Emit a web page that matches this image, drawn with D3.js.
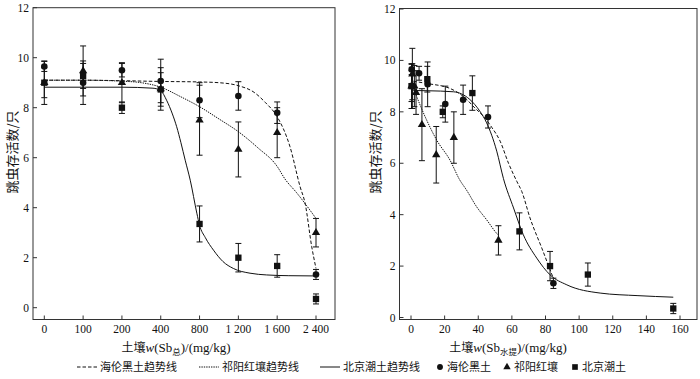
<!DOCTYPE html>
<html>
<head>
<meta charset="utf-8">
<script src="https://cdn.jsdelivr.net/npm/d3@7"></script>
<style>
body { margin: 0; background: #fff; }
text { fill: #111; }
</style>
</head>
<body>
<svg id="chart" width="700" height="379"></svg>
<script>
// tick labels of the left panel (categorical dose levels)
var doseLabels = ["0", "100", "200", "400", "800", "1 200", "1 600", "2 400"];
var yTicks = [0, 2, 4, 6, 8, 10, 12];
var waterTicks = [0, 20, 40, 60, 80, 100, 120, 140, 160];

// survival counts (same values in both panels)
var heilunVal = [9.65, 9.0, 9.5, 9.07, 8.3, 8.47, 7.8, 1.33];
var heilunErr = [0.2, 0.87, 0.27, 0.87, 0.7, 0.57, 0.43, 0.2];
var qiyangVal = [9.0, 9.47, 9.0, 8.75, 7.5, 6.33, 7.0, 3.0];
var qiyangErr = [0.87, 1.0, 0.8, 0.85, 1.4, 1.1, 1.0, 0.57];
var beijingVal = [9.0, 9.27, 8.0, 8.73, 3.35, 2.0, 1.67, 0.35];
var beijingErr = [0.6, 0.5, 0.23, 0.67, 0.72, 0.57, 0.45, 0.2];

// water-extractable Sb of each sample (right panel x)
var heilunWater = [0.4, 0.8, 4.8, 9.9, 20.4, 31, 45.8, 84.7];
var qiyangWater = [0.3, 0.8, 2.0, 3.0, 6.5, 15, 25.5, 52];
var beijingWater = [0.3, 9.7, 18.9, 36.5, 64.5, 82.7, 105.2, 156];

// trend lines, left panel x = dose index
var heilunTrendL = [[0, 9.1], [1, 9.1], [2, 9.08], [3, 9.05], [4, 9.03], [4.5, 9.0], [5, 8.88], [5.4, 8.62], [5.7, 8.2], [6, 7.64], [6.33, 6.44], [6.59, 4.84], [6.72, 4.17], [6.89, 2.44], [7, 1.57]];
var qiyangTrendL = [[0, 9.1], [1, 9.1], [2, 9.06], [2.5, 9.0], [3, 8.82], [3.5, 8.45], [4, 8.04], [4.5, 7.55], [5, 7.04], [5.5, 6.4], [6, 5.65], [6.2, 5.15], [6.5, 4.6], [6.75, 4.1], [7, 3.57]];
var beijingTrendL = [[0, 8.82], [2, 8.82], [2.8, 8.78], [3, 8.68], [3.15, 8.3], [3.3, 7.75], [3.41, 7.24], [3.52, 6.6], [3.63, 5.9], [3.76, 5.1], [3.93, 3.78], [4.0, 3.3], [4.15, 2.8], [4.36, 2.3], [4.6, 1.85], [4.87, 1.57], [5.3, 1.38], [5.73, 1.31], [6.3, 1.28], [7, 1.27]];

// trend lines, right panel x = water-extractable Sb
var heilunTrendR = [[1.4, 9.19], [9.7, 9.1], [23.2, 8.91], [32, 8.55], [38, 8.15], [43, 7.83], [48, 7.4], [53, 6.86], [58, 6.0], [62.9, 5.3], [65.9, 4.9], [70.8, 3.87], [77.8, 2.7], [82.7, 1.86], [84.5, 1.55]];
var qiyangTrendR = [[1, 9.0], [3.4, 8.59], [9.3, 7.68], [15.3, 6.9], [23.2, 6.12], [29, 5.35], [33, 4.96], [39, 4.31], [45, 3.8], [51, 3.27], [52, 3.2]];
var beijingTrendR = [[1.4, 8.83], [10, 8.82], [25.2, 8.78], [30, 8.7], [35, 8.48], [41, 8.02], [45, 7.57], [51, 6.47], [55, 5.4], [61, 4.26], [66.8, 3.22], [74.8, 2.31], [82.7, 1.66], [92.7, 1.27], [112.5, 0.95], [135, 0.85], [156, 0.79]];

var svg = d3.select("#chart");
var serif = "'Liberation Serif', 'Times New Roman', serif";
var cjk = "'Noto Sans CJK SC', sans-serif";
var ink = "#111";

var dashes = { heilun: "3.5,2", qiyang: "1.4,1", beijing: null };
var symbols = { heilun: d3.symbolCircle, qiyang: d3.symbolTriangle, beijing: d3.symbolSquare };
var symSize = { heilun: 34, qiyang: 30, beijing: 40 };

function drawPanel(p) {
    var g = svg.append("g");
    var x = p.x, y = p.y;

    // frame
    g.append("rect")
        .attr("x", p.left).attr("y", p.top)
        .attr("width", p.right - p.left).attr("height", p.bottom - p.top)
        .attr("fill", "none").attr("stroke", "#333").attr("stroke-width", 1);

    // y ticks (inward)
    yTicks.forEach(function (t) {
        g.append("line")
            .attr("x1", p.left).attr("x2", p.left + 4)
            .attr("y1", y(t)).attr("y2", y(t))
            .attr("stroke", "#333");
        g.append("text")
            .attr("x", p.left - 4).attr("y", y(t))
            .attr("dy", "0.35em").attr("text-anchor", "end")
            .style("font-family", serif).style("font-size", "11.5px")
            .text(t);
    });

    // x ticks (inward)
    p.xTicks.forEach(function (t, i) {
        g.append("line")
            .attr("x1", x(t)).attr("x2", x(t))
            .attr("y1", p.bottom).attr("y2", p.bottom - 4)
            .attr("stroke", "#333");
        g.append("text")
            .attr("x", x(t)).attr("y", p.bottom + 13)
            .attr("text-anchor", "middle")
            .style("font-family", serif).style("font-size", "11.5px")
            .text(p.xLabels ? p.xLabels[i] : t);
    });

    // trend lines
    var line = d3.line()
        .x(function (d) { return x(d[0]); })
        .y(function (d) { return y(d[1]); })
        .curve(d3.curveMonotoneX);
    p.trends.forEach(function (tr) {
        g.append("path")
            .attr("d", line(tr.data))
            .attr("fill", "none").attr("stroke", ink).attr("stroke-width", 1)
            .attr("stroke-dasharray", dashes[tr.key]);
    });

    // error bars and markers
    p.series.forEach(function (s) {
        s.vals.forEach(function (v, i) {
            var cx = x(s.xs[i]);
            var e = s.errs[i];
            g.append("line")
                .attr("x1", cx).attr("x2", cx)
                .attr("y1", y(v + e)).attr("y2", y(v - e))
                .attr("stroke", ink).attr("stroke-width", 1);
            [v + e, v - e].forEach(function (c) {
                g.append("line")
                    .attr("x1", cx - 3).attr("x2", cx + 3)
                    .attr("y1", y(c)).attr("y2", y(c))
                    .attr("stroke", ink).attr("stroke-width", 1);
            });
        });
    });
    p.series.forEach(function (s) {
        s.vals.forEach(function (v, i) {
            g.append("path")
                .attr("d", d3.symbol().type(symbols[s.key]).size(symSize[s.key])())
                .attr("transform", "translate(" + x(s.xs[i]) + "," + y(v) + ")")
                .attr("fill", ink);
        });
    });

    // y title
    g.append("text")
        .attr("transform", "translate(" + p.yTitleX + ",152) rotate(-90)")
        .attr("text-anchor", "middle").attr("dy", "0.35em")
        .style("font-family", cjk).style("font-size", "13px")
        .text("跳虫存活数/只");

    // x title
    var xt = g.append("text")
        .attr("x", p.xTitleX).attr("y", 352)
        .attr("text-anchor", "middle")
        .style("font-family", cjk).style("font-size", "12px");
    xt.append("tspan").text("土壤");
    xt.append("tspan").style("font-family", serif).style("font-style", "italic").style("font-size", "13px").text("w");
    xt.append("tspan").style("font-family", serif).style("font-size", "13px").text("(Sb");
    xt.append("tspan").attr("dy", 3).style("font-size", "8.5px").text(p.sub);
    xt.append("tspan").attr("dy", -3).style("font-family", serif).style("font-size", "13px").text(")/(mg/kg)");
}

var idx = d3.range(8);

drawPanel({
    left: 33, right: 335, top: 7.7, bottom: 319.5,
    x: d3.scaleLinear().domain([0, 7]).range([44.3, 316]),
    y: d3.scaleLinear().domain([0, 12]).range([307.7, 7.7]),
    xTicks: idx, xLabels: doseLabels,
    trends: [
        { key: "heilun", data: heilunTrendL },
        { key: "qiyang", data: qiyangTrendL },
        { key: "beijing", data: beijingTrendL }
    ],
    series: [
        { key: "heilun", xs: idx, vals: heilunVal, errs: heilunErr },
        { key: "qiyang", xs: idx, vals: qiyangVal, errs: qiyangErr },
        { key: "beijing", xs: idx, vals: beijingVal, errs: beijingErr }
    ],
    yTitleX: 12.5, xTitleX: 176, sub: "总"
});

drawPanel({
    left: 399.5, right: 697, top: 8.5, bottom: 319.5,
    x: d3.scaleLinear().domain([0, 160]).range([411, 680]),
    y: d3.scaleLinear().domain([0, 12]).range([317.5, 9]),
    xTicks: waterTicks,
    trends: [
        { key: "heilun", data: heilunTrendR },
        { key: "qiyang", data: qiyangTrendR },
        { key: "beijing", data: beijingTrendR }
    ],
    series: [
        { key: "heilun", xs: heilunWater, vals: heilunVal, errs: heilunErr },
        { key: "qiyang", xs: qiyangWater, vals: qiyangVal, errs: qiyangErr },
        { key: "beijing", xs: beijingWater, vals: beijingVal, errs: beijingErr }
    ],
    yTitleX: 375, xTitleX: 508, sub: "水提"
});

// legend
var legendItems = [
    { type: "line", key: "heilun", x: 77, label: "海伦黑土趋势线" },
    { type: "line", key: "qiyang", x: 199, label: "祁阳红壤趋势线" },
    { type: "line", key: "beijing", x: 320, label: "北京潮土趋势线" },
    { type: "sym", key: "heilun", x: 440, label: "海伦黑土" },
    { type: "sym", key: "qiyang", x: 507, label: "祁阳红壤" },
    { type: "sym", key: "beijing", x: 575, label: "北京潮土" }
];
var ly = 367;
var lg = svg.append("g");
legendItems.forEach(function (it) {
    var tx;
    if (it.type === "line") {
        lg.append("line")
            .attr("x1", it.x).attr("x2", it.x + 20)
            .attr("y1", ly).attr("y2", ly)
            .attr("stroke", ink).attr("stroke-width", 1)
            .attr("stroke-dasharray", dashes[it.key]);
        tx = it.x + 23;
    } else {
        lg.append("path")
            .attr("d", d3.symbol().type(symbols[it.key]).size(symSize[it.key] * 0.8)())
            .attr("transform", "translate(" + it.x + "," + ly + ")")
            .attr("fill", ink);
        tx = it.x + 7;
    }
    lg.append("text")
        .attr("x", tx).attr("y", ly).attr("dy", "0.35em")
        .style("font-family", cjk).style("font-size", "11px")
        .text(it.label);
});
</script>
</body>
</html>
